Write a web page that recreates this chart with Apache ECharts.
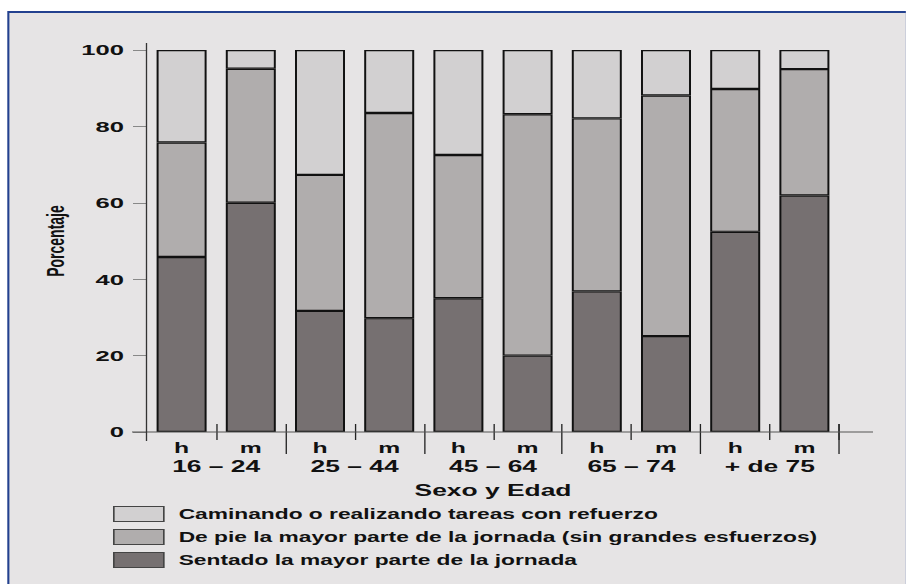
<!DOCTYPE html>
<html><head><meta charset="utf-8">
<script src="https://cdn.jsdelivr.net/npm/echarts@6/dist/echarts.min.js"></script>
<style>
html,body{margin:0;padding:0;background:#fff;overflow:hidden;}
#wrap{width:906px;height:584px;overflow:hidden;position:relative;background:#fff;}
#chart{position:absolute;left:0;top:0;height:584px;transform-origin:0 0;}
</style></head><body>
<div id="wrap"><div id="chart"></div></div>
<script>
// ---- data ----
const categories = ['h', 'm', 'h', 'm', 'h', 'm', 'h', 'm', 'h', 'm'];
const groups = ['16 \u2013 24', '25 \u2013 44', '45 \u2013 64', '65 \u2013 74', '+ de 75'];
const seriesNames = [
  'Caminando o realizando tareas con refuerzo',
  'De pie la mayor parte de la jornada (sin grandes esfuerzos)',
  'Sentado la mayor parte de la jornada'
];
const sentado   = [45.8, 60.0, 31.7, 29.8, 35.0, 20.0, 36.8, 25.1, 52.4, 61.9];
const dePie     = [30.0, 35.1, 35.6, 53.7, 37.5, 63.2, 45.3, 63.0, 37.4, 33.1];
const caminando = [24.2,  4.9, 32.7, 16.5, 27.5, 16.8, 17.9, 11.9, 10.2,  5.0];
const yTicks = [0, 20, 40, 60, 80, 100];
const yAxisTitle = 'Porcentaje';
const xAxisTitle = 'Sexo y Edad';

// ---- layout (reference picture is horizontally stretched) ----
const S = 1.65;
const W = 906 / S;
const px = x => x / S;
const el = document.getElementById('chart');
el.style.width = W + 'px';
el.style.transform = 'scaleX(' + S + ')';
const chart = echarts.init(el, null, {renderer: 'svg', width: W, height: 584});

const FONT = "'Liberation Sans', Arial, Helvetica, sans-serif";
const COLORS = {sentado: '#767071', dePie: '#b0adad', caminando: '#d2d0d1'};
const border = {borderColor: '#111', borderWidth: 1.2};
const gridLeft = px(147), gridRightEdge = px(839);

const option = {
  backgroundColor: '#ffffff',
  animation: false,
  grid: {left: gridLeft, right: W - gridRightEdge, top: 50, bottom: 584 - 432, outerBoundsMode: 'none', containLabel: false},
  graphic: [
    {type: 'rect', silent: true, z: -100, shape: {x: px(7.3), y: 11, width: W, height: 600}, style: {fill: '#23418f'}},
    {type: 'rect', silent: true, z: -99, shape: {x: px(9.4), y: 13, width: W, height: 600}, style: {fill: '#e6e4e5'}},
    {type: 'line', silent: true, z: 5, shape: {x1: px(132), y1: 432, x2: px(873), y2: 432}, style: {stroke: '#555', lineWidth: 1}},
    {type: 'line', silent: true, z: 5, shape: {x1: px(146.5), y1: 43, x2: px(146.5), y2: 441}, style: {stroke: '#333', lineWidth: 0.8}}
  ],
  legend: {
    orient: 'vertical', left: px(113), top: 506, padding: 0, itemGap: 7,
    itemWidth: px(50), itemHeight: 15, icon: 'rect', selectedMode: false,
    data: seriesNames,
    itemStyle: {borderColor: '#444', borderWidth: 1},
    textStyle: {fontFamily: FONT, fontWeight: 'bold', fontSize: 13.8, lineHeight: 15, color: '#111', padding: [0, 0, 0, 4]}
  },
  xAxis: [
    {
      type: 'category', data: categories, position: 'bottom',
      axisLine: {show: false}, axisTick: {show: false},
      axisLabel: {interval: 0, margin: 8.5, fontFamily: FONT, fontWeight: 'bold', fontSize: 15, color: '#111'},
      name: xAxisTitle, nameLocation: 'middle', nameGap: 50, nameMoveOverlap: false,
      nameTextStyle: {fontFamily: FONT, fontWeight: 'bold', fontSize: 16, color: '#111'}
    },
    {
      type: 'category', data: categories, position: 'bottom', offset: -8,
      axisLine: {show: false}, axisLabel: {show: false},
      axisTick: {show: true, interval: (i) => i % 2 === 1, length: 16, lineStyle: {color: '#222', width: 0.8}}
    },
    {
      type: 'category', data: groups, position: 'bottom', offset: -8,
      axisLine: {show: false},
      axisTick: {show: true, interval: (i) => i >= 1, length: 30, lineStyle: {color: '#222', width: 0.8}},
      axisLabel: {interval: 0, margin: 34, fontFamily: FONT, fontWeight: 'bold', fontSize: 16, color: '#111'}
    }
  ],
  yAxis: {
    type: 'value', min: yTicks[0], max: yTicks[yTicks.length - 1], interval: yTicks[1] - yTicks[0],
    splitLine: {show: false}, axisLine: {show: false},
    axisTick: {show: true, length: px(14), lineStyle: {color: '#888', width: 1}},
    axisLabel: {margin: px(23), fontFamily: FONT, fontWeight: 'bold', fontSize: 15.5, color: '#111'},
    name: yAxisTitle, nameLocation: 'middle', nameGap: 48, nameMoveOverlap: false,
    nameTextStyle: {fontFamily: FONT, fontWeight: 'bold', fontSize: 14, color: '#111'}
  },
  series: [
    {name: seriesNames[2], type: 'bar', stack: 'total', xAxisIndex: 0, barWidth: px(50), data: sentado,
     itemStyle: Object.assign({color: COLORS.sentado}, border)},
    {name: seriesNames[1], type: 'bar', stack: 'total', xAxisIndex: 0, barWidth: px(50), data: dePie,
     itemStyle: Object.assign({color: COLORS.dePie}, border)},
    {name: seriesNames[0], type: 'bar', stack: 'total', xAxisIndex: 0, barWidth: px(50), data: caminando,
     itemStyle: Object.assign({color: COLORS.caminando}, border)}
  ]
};
chart.setOption(option);
</script>
</body></html>
